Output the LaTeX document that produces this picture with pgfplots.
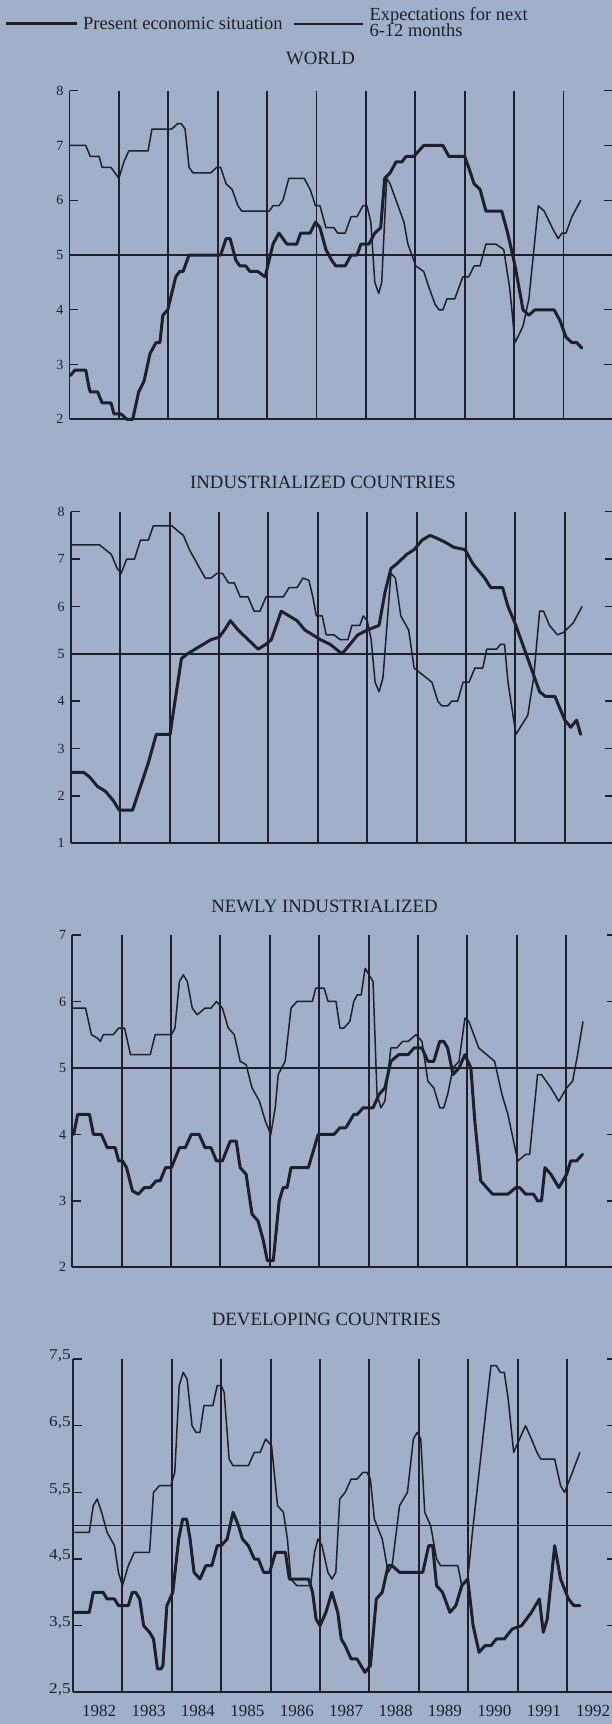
\documentclass[border=0pt]{standalone}
\usepackage{fontspec}
\setmainfont{Liberation Serif}
\newfontfamily\widetick[FakeStretch=1.15]{Liberation Serif}
\usepackage{pgfplots}
\pgfplotsset{compat=1.18}
\definecolor{bg}{RGB}{162,175,200}
\definecolor{ink}{RGB}{30,31,42}

\pgfplotsset{
  panel/.style={
    scale only axis, width=543.4pt,
    xmin=1982, xmax=1993,
    axis x line=bottom, axis y line=box,
    axis line style={-, ink, line width=1.8pt},
    x axis line style={-, line width=2.2pt},
    xtick={1983,...,1992}, xticklabels={},
    xmajorgrids,
    major grid style={ink, line width=1.9pt},
    xtick style={draw=none},
    ytick style={ink, line width=1.4pt},
    major tick length=9pt,
    tick align=inside,
    yticklabel pos=left,
    /pgf/number format/assume math mode=true,
    yticklabel={\fontsize{14}{14}\selectfont\pgfmathprintnumber{\tick}},
    yticklabel style={text=ink, inner sep=0pt, xshift=-6pt},
    clip=false,
  },
  pres/.style={ink, line width=3pt, line join=round, line cap=round},
  expt/.style={ink, line width=1.5pt, line join=round},
  refl/.style={ink, line width=1.5pt},
}

\begin{document}
\begin{tikzpicture}
\fill[bg] (0pt,0pt) rectangle (612pt,-1724pt);

% legend
\draw[ink, line width=2.2pt] (6pt,-23.5pt) -- (77pt,-23.5pt);
\node[anchor=base west, inner sep=0pt, text=ink, font=\fontsize{18.5}{18.5}\selectfont] at (83pt,-29.3pt) {Present economic situation};
\draw[ink, line width=1.3pt] (294pt,-24pt) -- (363pt,-24pt);
\node[anchor=base west, inner sep=0pt, text=ink, font=\fontsize{18.5}{18.5}\selectfont] at (369.3pt,-20.7pt) {Expectations for next};
\node[anchor=base west, inner sep=0pt, text=ink, font=\fontsize{18.5}{18.5}\selectfont] at (369.3pt,-36.7pt) {6-12 months};

% titles
\node[anchor=base, inner sep=0pt, text=ink, font=\fontsize{18.8}{18.8}\selectfont] at (320.5pt,-64pt) {WORLD};
\node[anchor=base, inner sep=0pt, text=ink, font=\fontsize{18.8}{18.8}\selectfont] at (323pt,-488.3pt) {INDUSTRIALIZED COUNTRIES};
\node[anchor=base, inner sep=0pt, text=ink, font=\fontsize{18.8}{18.8}\selectfont] at (324.5pt,-912.7pt) {NEWLY INDUSTRIALIZED};
\node[anchor=base, inner sep=0pt, text=ink, font=\fontsize{18.8}{18.8}\selectfont] at (326.5pt,-1325pt) {DEVELOPING COUNTRIES};

% ---------------- WORLD ----------------
\begin{axis}[panel, at={(69.5pt,-419.3pt)}, anchor=south west, height=328.6pt,
  ymin=2, ymax=8, ytick={2,...,8}]
\addplot[refl] coordinates {(1982,5) (1993,5)};
\addplot[expt] coordinates {
(1982.02,7.0)(1982.33,7.0)(1982.42,6.8)(1982.60,6.8)(1982.66,6.6)(1982.84,6.6)(1982.92,6.5)(1983.00,6.4)(1983.10,6.7)(1983.20,6.9)(1983.59,6.9)(1983.67,7.3)(1984.07,7.3)(1984.19,7.4)(1984.26,7.4)(1984.34,7.3)(1984.42,6.6)(1984.50,6.5)(1984.86,6.5)(1984.98,6.6)(1985.06,6.6)(1985.17,6.3)(1985.29,6.2)(1985.41,5.9)(1985.49,5.8)(1986.04,5.8)(1986.12,5.9)(1986.24,5.9)(1986.32,6.0)(1986.44,6.4)(1986.75,6.4)(1986.87,6.2)(1986.98,5.9)(1987.07,5.9)(1987.19,5.5)(1987.35,5.5)(1987.43,5.4)(1987.58,5.4)(1987.70,5.7)(1987.82,5.7)(1987.94,5.9)(1988.02,5.9)(1988.10,5.6)(1988.18,4.5)(1988.26,4.3)(1988.32,4.5)(1988.42,6.4)(1988.49,6.3)(1988.61,6.0)(1988.77,5.6)(1988.85,5.2)(1989.01,4.8)(1989.17,4.7)(1989.28,4.4)(1989.40,4.1)(1989.48,4.0)(1989.56,4.0)(1989.64,4.2)(1989.80,4.2)(1989.88,4.4)(1989.96,4.6)(1990.08,4.6)(1990.19,4.8)(1990.31,4.8)(1990.43,5.2)(1990.63,5.2)(1990.79,5.1)(1990.91,4.4)(1991.02,3.4)(1991.18,3.7)(1991.30,4.2)(1991.49,5.9)(1991.61,5.8)(1991.77,5.5)(1991.89,5.3)(1991.97,5.4)(1992.05,5.4)(1992.17,5.7)(1992.35,6.0)};
\addplot[pres] coordinates {
(1982.02,2.8)(1982.11,2.9)(1982.33,2.9)(1982.39,2.6)(1982.42,2.5)(1982.57,2.5)(1982.66,2.3)(1982.84,2.3)(1982.90,2.1)(1983.04,2.1)(1983.16,2.0)(1983.28,2.0)(1983.40,2.5)(1983.51,2.7)(1983.63,3.2)(1983.75,3.4)(1983.83,3.4)(1983.89,3.9)(1983.99,4.0)(1984.15,4.6)(1984.23,4.7)(1984.30,4.7)(1984.42,5.0)(1985.06,5.0)(1985.17,5.3)(1985.25,5.3)(1985.37,4.9)(1985.45,4.8)(1985.57,4.8)(1985.65,4.7)(1985.81,4.7)(1985.96,4.6)(1986.12,5.2)(1986.24,5.4)(1986.40,5.2)(1986.60,5.2)(1986.68,5.4)(1986.87,5.4)(1986.98,5.6)(1987.07,5.5)(1987.19,5.1)(1987.31,4.9)(1987.39,4.8)(1987.58,4.8)(1987.70,5.0)(1987.82,5.0)(1987.90,5.2)(1988.06,5.2)(1988.18,5.4)(1988.30,5.5)(1988.38,6.4)(1988.49,6.5)(1988.61,6.7)(1988.73,6.7)(1988.81,6.8)(1988.97,6.8)(1989.17,7.0)(1989.56,7.0)(1989.68,6.8)(1990.00,6.8)(1990.08,6.6)(1990.19,6.3)(1990.31,6.2)(1990.43,5.8)(1990.75,5.8)(1990.87,5.4)(1991.02,4.8)(1991.18,4.0)(1991.30,3.9)(1991.42,4.0)(1991.81,4.0)(1991.93,3.8)(1992.05,3.5)(1992.17,3.4)(1992.27,3.4)(1992.37,3.3)};
\end{axis}

% ---------------- INDUSTRIALIZED ----------------
\begin{axis}[panel, at={(70.8pt,-843.3pt)}, anchor=south west, height=331.6pt,
  ymin=1, ymax=8, ytick={1,...,8}]
\addplot[refl] coordinates {(1982,5) (1993,5)};
\addplot[expt] coordinates {
(1982.02,7.3)(1982.58,7.3)(1982.70,7.2)(1982.82,7.1)(1982.94,6.8)(1983.02,6.7)(1983.13,7.0)(1983.29,7.0)(1983.41,7.4)(1983.57,7.4)(1983.67,7.7)(1984.05,7.7)(1984.16,7.6)(1984.28,7.5)(1984.40,7.2)(1984.56,6.9)(1984.72,6.6)(1984.84,6.6)(1984.96,6.7)(1985.07,6.7)(1985.19,6.5)(1985.31,6.5)(1985.43,6.2)(1985.59,6.2)(1985.71,5.9)(1985.83,5.9)(1985.95,6.2)(1986.30,6.2)(1986.42,6.4)(1986.58,6.4)(1986.70,6.6)(1986.82,6.55)(1986.90,6.2)(1986.97,5.8)(1987.09,5.8)(1987.17,5.4)(1987.33,5.4)(1987.45,5.3)(1987.61,5.3)(1987.69,5.6)(1987.85,5.6)(1987.92,5.8)(1988.00,5.7)(1988.08,5.3)(1988.16,4.4)(1988.24,4.2)(1988.32,4.5)(1988.48,6.7)(1988.57,6.6)(1988.68,5.8)(1988.84,5.5)(1988.95,4.7)(1989.07,4.6)(1989.19,4.5)(1989.31,4.4)(1989.43,4.0)(1989.51,3.9)(1989.63,3.9)(1989.71,4.0)(1989.83,4.0)(1989.94,4.4)(1990.06,4.4)(1990.18,4.7)(1990.34,4.7)(1990.42,5.1)(1990.62,5.1)(1990.70,5.2)(1990.78,5.2)(1990.85,4.4)(1991.01,3.3)(1991.25,3.7)(1991.37,4.5)(1991.49,5.9)(1991.57,5.9)(1991.69,5.6)(1991.85,5.4)(1991.97,5.45)(1992.17,5.65)(1992.35,6.0)};
\addplot[pres] coordinates {
(1982.02,2.5)(1982.26,2.5)(1982.38,2.4)(1982.54,2.2)(1982.70,2.1)(1982.86,1.9)(1982.98,1.7)(1983.25,1.7)(1983.41,2.2)(1983.57,2.7)(1983.73,3.3)(1984.01,3.3)(1984.08,3.8)(1984.24,4.9)(1984.36,5.0)(1984.52,5.1)(1984.68,5.2)(1984.84,5.3)(1985.00,5.35)(1985.11,5.5)(1985.23,5.7)(1985.39,5.5)(1985.59,5.3)(1985.79,5.1)(1985.95,5.2)(1986.06,5.3)(1986.26,5.9)(1986.42,5.8)(1986.58,5.7)(1986.74,5.5)(1986.90,5.4)(1987.05,5.3)(1987.25,5.2)(1987.49,5.0)(1987.65,5.2)(1987.81,5.4)(1988.00,5.5)(1988.24,5.6)(1988.36,6.3)(1988.48,6.8)(1988.60,6.9)(1988.80,7.1)(1988.95,7.2)(1989.11,7.4)(1989.27,7.5)(1989.39,7.45)(1989.59,7.35)(1989.75,7.25)(1989.98,7.2)(1990.14,6.9)(1990.38,6.6)(1990.50,6.4)(1990.74,6.4)(1990.85,6.0)(1991.01,5.6)(1991.25,4.9)(1991.49,4.2)(1991.61,4.1)(1991.80,4.1)(1992.00,3.6)(1992.12,3.45)(1992.24,3.6)(1992.32,3.3)};
\end{axis}

% ---------------- NEWLY INDUSTRIALIZED ----------------
\begin{axis}[panel, at={(72.2pt,-1267.3pt)}, anchor=south west, height=332.3pt,
  ymin=2, ymax=7, ytick={2,...,7}]
\addplot[refl] coordinates {(1982,5) (1993,5)};
\addplot[expt] coordinates {
(1982.02,5.9)(1982.27,5.9)(1982.39,5.5)(1982.51,5.45)(1982.57,5.4)(1982.63,5.5)(1982.83,5.5)(1982.94,5.6)(1983.06,5.6)(1983.18,5.2)(1983.58,5.2)(1983.68,5.5)(1984.01,5.5)(1984.08,5.6)(1984.17,6.3)(1984.25,6.4)(1984.33,6.3)(1984.43,5.9)(1984.53,5.8)(1984.69,5.9)(1984.81,5.9)(1984.92,6.0)(1985.04,5.9)(1985.16,5.6)(1985.28,5.5)(1985.40,5.1)(1985.52,5.05)(1985.64,4.7)(1985.79,4.5)(1985.91,4.2)(1986.02,4.0)(1986.11,4.4)(1986.17,4.9)(1986.31,5.1)(1986.43,5.9)(1986.55,6.0)(1986.86,6.0)(1986.93,6.2)(1987.10,6.2)(1987.18,6.0)(1987.34,6.0)(1987.42,5.6)(1987.50,5.6)(1987.62,5.7)(1987.70,6.0)(1987.77,6.1)(1987.85,6.1)(1987.93,6.5)(1988.01,6.4)(1988.09,6.3)(1988.17,4.6)(1988.25,4.4)(1988.33,4.5)(1988.45,5.3)(1988.57,5.3)(1988.69,5.4)(1988.80,5.4)(1988.96,5.5)(1989.08,5.4)(1989.20,4.8)(1989.32,4.7)(1989.44,4.4)(1989.52,4.4)(1989.60,4.6)(1989.71,5.0)(1989.83,5.1)(1989.95,5.75)(1990.03,5.7)(1990.23,5.3)(1990.39,5.2)(1990.55,5.1)(1990.70,4.6)(1990.82,4.3)(1991.02,3.6)(1991.18,3.7)(1991.26,3.7)(1991.42,4.9)(1991.50,4.9)(1991.69,4.7)(1991.85,4.5)(1992.01,4.7)(1992.13,4.8)(1992.23,5.2)(1992.34,5.7)};
\addplot[pres] coordinates {
(1982.03,4.0)(1982.11,4.3)(1982.35,4.3)(1982.43,4.0)(1982.59,4.0)(1982.71,3.8)(1982.87,3.8)(1982.94,3.6)(1983.02,3.6)(1983.10,3.5)(1983.22,3.15)(1983.34,3.1)(1983.46,3.2)(1983.58,3.2)(1983.70,3.3)(1983.78,3.3)(1983.89,3.5)(1984.01,3.5)(1984.17,3.8)(1984.29,3.8)(1984.41,4.0)(1984.57,4.0)(1984.69,3.8)(1984.81,3.8)(1984.92,3.6)(1985.04,3.6)(1985.20,3.9)(1985.32,3.9)(1985.40,3.5)(1985.52,3.4)(1985.64,2.8)(1985.76,2.7)(1985.87,2.4)(1985.95,2.1)(1986.07,2.1)(1986.19,3.0)(1986.27,3.2)(1986.35,3.2)(1986.43,3.5)(1986.78,3.5)(1986.90,3.8)(1986.98,4.0)(1987.30,4.0)(1987.42,4.1)(1987.54,4.1)(1987.70,4.3)(1987.77,4.3)(1987.89,4.4)(1988.09,4.4)(1988.21,4.6)(1988.33,4.7)(1988.45,5.1)(1988.61,5.2)(1988.80,5.2)(1988.92,5.3)(1989.08,5.3)(1989.20,5.1)(1989.32,5.1)(1989.44,5.4)(1989.52,5.4)(1989.60,5.3)(1989.71,4.9)(1989.83,5.0)(1989.95,5.2)(1990.07,5.0)(1990.15,4.2)(1990.27,3.3)(1990.39,3.2)(1990.51,3.1)(1990.82,3.1)(1990.98,3.2)(1991.06,3.2)(1991.18,3.1)(1991.34,3.1)(1991.42,3.0)(1991.50,3.0)(1991.57,3.5)(1991.69,3.4)(1991.85,3.2)(1992.01,3.4)(1992.09,3.6)(1992.21,3.6)(1992.33,3.7)};
\end{axis}

% ---------------- DEVELOPING ----------------
\begin{axis}[panel, at={(73pt,-1692.3pt)}, anchor=south west, height=333.3pt,
  ymin=2.5, ymax=7.5, ytick={2.5,3.5,4.5,5.5,6.5,7.5},
  yticklabels={{2,5},{3,5},{4,5},{5,5},{6,5},{7,5}},
  yticklabel style={font=\widetick\fontsize{15}{15}\selectfont, xshift=4pt, yshift=3pt},
  extra x ticks={1982.53,1983.53,1984.53,1985.53,1986.53,1987.53,1988.53,1989.53,1990.53,1991.53,1992.53},
  extra x tick labels={1982,1983,1984,1985,1986,1987,1988,1989,1990,1991,1992},
  extra x tick style={grid=none, tick style={draw=none},
    xticklabel style={font=\fontsize{17}{17}\selectfont, text=ink, yshift=-9pt}}]
\addplot[refl] coordinates {(1982,5) (1993,5)};
\addplot[expt] coordinates {
(1982.03,4.9)(1982.33,4.9)(1982.41,5.3)(1982.49,5.4)(1982.58,5.2)(1982.69,4.9)(1982.84,4.7)(1982.92,4.3)(1983.00,4.1)(1983.12,4.4)(1983.24,4.6)(1983.55,4.6)(1983.63,5.5)(1983.75,5.6)(1983.98,5.6)(1984.06,5.8)(1984.15,7.1)(1984.23,7.3)(1984.31,7.2)(1984.41,6.5)(1984.49,6.4)(1984.57,6.4)(1984.65,6.8)(1984.83,6.8)(1984.92,7.1)(1985.00,7.1)(1985.06,7.0)(1985.16,6.0)(1985.24,5.9)(1985.55,5.9)(1985.67,6.1)(1985.79,6.1)(1985.90,6.3)(1986.02,6.2)(1986.14,5.3)(1986.26,5.2)(1986.34,4.8)(1986.41,4.2)(1986.53,4.1)(1986.81,4.1)(1986.89,4.6)(1986.96,4.8)(1987.04,4.7)(1987.16,4.3)(1987.24,4.2)(1987.32,4.3)(1987.40,5.4)(1987.51,5.5)(1987.63,5.7)(1987.75,5.7)(1987.87,5.8)(1987.95,5.8)(1988.02,5.7)(1988.10,5.1)(1988.26,4.8)(1988.38,4.3)(1988.46,4.4)(1988.61,5.3)(1988.77,5.5)(1988.89,6.3)(1988.97,6.4)(1989.04,6.3)(1989.12,5.2)(1989.24,5.0)(1989.36,4.5)(1989.44,4.4)(1989.79,4.4)(1989.87,4.1)(1989.99,4.2)(1990.10,5.0)(1990.46,7.4)(1990.57,7.4)(1990.65,7.3)(1990.73,7.3)(1990.81,6.9)(1990.92,6.1)(1991.04,6.3)(1991.16,6.5)(1991.28,6.3)(1991.39,6.1)(1991.47,6.0)(1991.75,6.0)(1991.87,5.6)(1991.95,5.5)(1992.11,5.8)(1992.26,6.1)};
\addplot[pres] coordinates {
(1982.03,3.7)(1982.33,3.7)(1982.41,4.0)(1982.61,4.0)(1982.69,3.9)(1982.84,3.9)(1982.92,3.8)(1983.12,3.8)(1983.20,4.0)(1983.27,4.0)(1983.35,3.9)(1983.43,3.5)(1983.55,3.4)(1983.63,3.3)(1983.71,2.85)(1983.78,2.85)(1983.82,2.9)(1983.90,3.8)(1984.02,4.0)(1984.14,4.8)(1984.22,5.1)(1984.30,5.1)(1984.37,4.8)(1984.45,4.3)(1984.57,4.2)(1984.69,4.4)(1984.81,4.4)(1984.92,4.7)(1985.00,4.7)(1985.12,4.8)(1985.24,5.2)(1985.35,5.0)(1985.43,4.8)(1985.55,4.7)(1985.67,4.5)(1985.75,4.5)(1985.86,4.3)(1985.98,4.3)(1986.10,4.6)(1986.30,4.6)(1986.38,4.2)(1986.49,4.2)(1986.77,4.2)(1986.85,4.0)(1986.92,3.6)(1987.00,3.5)(1987.12,3.7)(1987.24,4.0)(1987.36,3.7)(1987.43,3.3)(1987.51,3.2)(1987.63,3.0)(1987.75,3.0)(1987.91,2.8)(1988.02,2.9)(1988.14,3.9)(1988.26,4.0)(1988.38,4.4)(1988.46,4.4)(1988.61,4.3)(1989.08,4.3)(1989.20,4.7)(1989.28,4.7)(1989.36,4.1)(1989.48,4.0)(1989.63,3.7)(1989.75,3.8)(1989.87,4.1)(1989.99,4.2)(1990.10,3.5)(1990.22,3.1)(1990.34,3.2)(1990.46,3.2)(1990.57,3.3)(1990.73,3.3)(1990.89,3.45)(1991.08,3.5)(1991.28,3.7)(1991.44,3.9)(1991.52,3.4)(1991.60,3.6)(1991.75,4.7)(1991.87,4.2)(1992.03,3.9)(1992.14,3.8)(1992.26,3.8)};
\end{axis}

\pgfresetboundingbox
\useasboundingbox (0pt,0pt) rectangle (612pt,-1724pt);
\end{tikzpicture}
\end{document}
